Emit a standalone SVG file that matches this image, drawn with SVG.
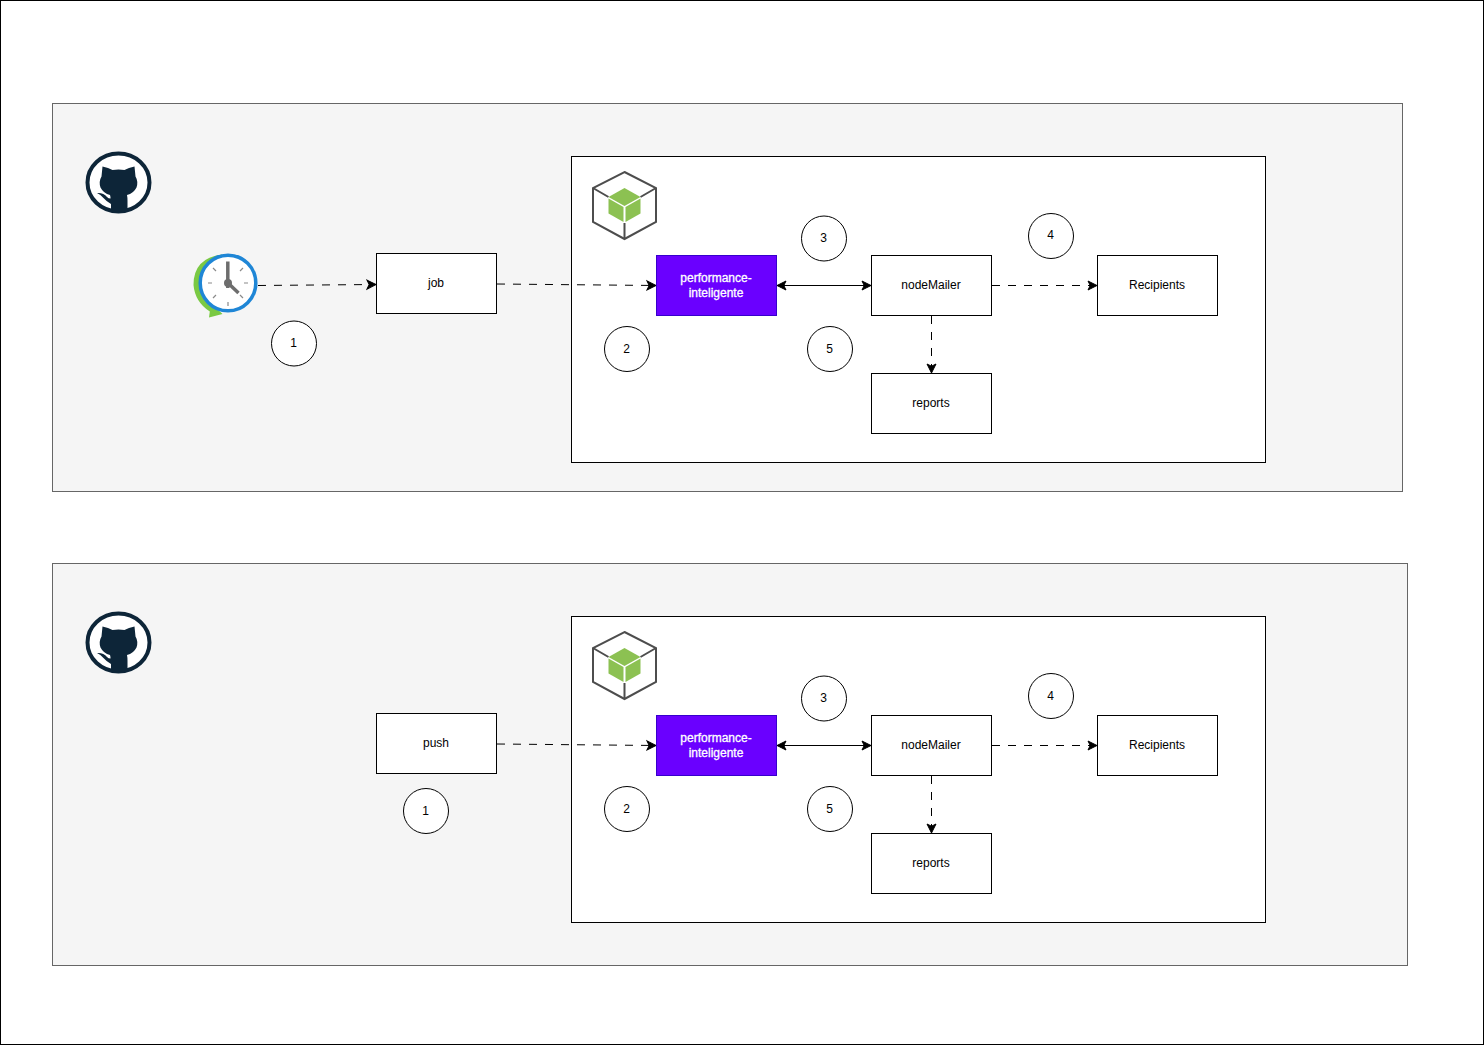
<svg xmlns="http://www.w3.org/2000/svg" width="1484" height="1045" viewBox="0 0 1484 1045">
<style>
text{font-family:"Liberation Sans",Arial,sans-serif;font-size:12px;fill:#000;text-anchor:middle}
text.w{fill:#fff;stroke:#fff;stroke-width:.3}
.box{fill:#fff;stroke:#000;stroke-width:1}
.panel{fill:#f5f5f5;stroke:#666;stroke-width:1}
.purple{fill:#6a00ff;stroke:#3700cc;stroke-width:1}
.dash{fill:none;stroke:#000;stroke-width:1;stroke-dasharray:8 8;marker-end:url(#arrow)}
.solid{fill:none;stroke:#000;stroke-width:1;marker-start:url(#arrowS);marker-end:url(#arrow)}
</style>
<defs>
<marker id="arrow" markerUnits="userSpaceOnUse" markerWidth="12" markerHeight="12" refX="10" refY="6" orient="auto"><path d="M1 1.500L10 6L1 10.500L3.200 6Z" fill="#000" stroke="#000" stroke-width="1"/></marker>
<marker id="arrowS" markerUnits="userSpaceOnUse" markerWidth="12" markerHeight="12" refX="2" refY="6" orient="auto"><path d="M11 1.500L2 6L11 10.500L8.800 6Z" fill="#000" stroke="#000" stroke-width="1"/></marker>
<g id="github">
<ellipse cx="0" cy="0" rx="31" ry="29" fill="#fff" stroke="#0d2538" stroke-width="4"/>
<path fill="#0d2538" d="M-17-6L-16-16Q-10-15-6-12.500Q0-13.500 6-12.500Q10-15 16-16L17-6Q20-1 18 5Q15 11 8.500 12.500Q9 15 9 18V28.500Q0 30-7.500 28.500V21.500Q-12 19-14.500 16Q-17 12.500-21.500 10.500Q-15 10-11.500 14.500Q-10 16-8 16V15Q-8 14-8.500 12.500Q-15 11-18 5Q-20-1-17-6Z"/>
</g>
<g id="pkg">
<path d="M0-33L31.500-17V17L0 34L-31.500 17V-17Z" fill="#fff" stroke="#4d4d4d" stroke-width="2"/>
<path d="M-31.500-17L-16-8M31.500-17L16-8M0 34V18" fill="none" stroke="#4d4d4d" stroke-width="2"/>
<path d="M0-17L16-8L0 1L-16-8Z" fill="#8cc152"/>
<path d="M-16-6.500L-1 2V17L-16 8.500Z" fill="#8cc152"/>
<path d="M16-6.500L1 2V17L16 8.500Z" fill="#8cc152"/>
</g>
<circle id="num" r="22.500" fill="#fff" stroke="#000"/>
</defs>
<rect x="0.500" y="0.500" width="1483" height="1044" fill="#fff" stroke="#000"/>
<g id="panel-top"><rect class="panel" x="52.500" y="103.500" width="1350" height="388"/></g>
<g id="panel-bottom"><rect class="panel" x="52.500" y="563.500" width="1355" height="402"/></g>
<g id="container-top"><rect class="box" x="571.500" y="156.500" width="694" height="306"/></g>
<g id="container-bottom"><rect class="box" x="571.500" y="616.500" width="694" height="306"/></g>
<g id="github-top"><use href="#github" x="118.500" y="182.500"/></g>
<g id="github-bottom"><use href="#github" x="118.500" y="642.500"/></g>
<g id="package-top"><use href="#pkg" x="624.500" y="205"/></g>
<g id="package-bottom"><use href="#pkg" x="624.500" y="665"/></g>
<g id="clock">
<path d="M222 254.500Q193.500 258 193.500 285Q195 302 209.800 311.500L209 317.500L222.500 314L213 305L220 290Z" fill="#7ac943"/>
<circle cx="228" cy="283" r="27.800" fill="#fff" stroke="#1f86d6" stroke-width="3.500"/>
<path d="M227.800 288V261.500" stroke="#6d6d6d" stroke-width="3.500"/>
<path d="M228 283L238.500 293" stroke="#6d6d6d" stroke-width="3.500"/>
<circle cx="228" cy="283" r="4" fill="#6d6d6d"/>
<path d="M228 306V302M208 283H212M244 283H248M213 268L216 271M243 268L240 271M213 298L216 295M243 298L240 295" stroke="#8a8a8a" stroke-width="1.200"/>
</g>
<g id="connectors">
<path class="dash" d="M258 285.500L376 284.500"/>
<path class="dash" d="M497 284L656 285.500"/>
<path class="solid" d="M777 285.500H871"/>
<path class="dash" d="M992 285.500H1097"/>
<path class="dash" d="M931.500 316V373"/>
<path class="dash" d="M497 744L656 745.500"/>
<path class="solid" d="M777 745.500H871"/>
<path class="dash" d="M992 745.500H1097"/>
<path class="dash" d="M931.500 776V833"/>
</g>
<g id="job"><rect class="box" x="376.500" y="253.500" width="120" height="60"/><text x="436" y="287">job</text></g>
<g id="perf-top"><rect class="purple" x="656.500" y="255.500" width="120" height="60"/><text class="w" x="716" y="282">performance-</text><text class="w" x="716" y="297">inteligente</text></g>
<g id="mailer-top"><rect class="box" x="871.500" y="255.500" width="120" height="60"/><text x="931" y="289">nodeMailer</text></g>
<g id="recipients-top"><rect class="box" x="1097.500" y="255.500" width="120" height="60"/><text x="1157" y="289">Recipients</text></g>
<g id="reports-top"><rect class="box" x="871.500" y="373.500" width="120" height="60"/><text x="931" y="407">reports</text></g>
<g id="push"><rect class="box" x="376.500" y="713.500" width="120" height="60"/><text x="436" y="747">push</text></g>
<g id="perf-bottom"><rect class="purple" x="656.500" y="715.500" width="120" height="60"/><text class="w" x="716" y="742">performance-</text><text class="w" x="716" y="757">inteligente</text></g>
<g id="mailer-bottom"><rect class="box" x="871.500" y="715.500" width="120" height="60"/><text x="931" y="749">nodeMailer</text></g>
<g id="recipients-bottom"><rect class="box" x="1097.500" y="715.500" width="120" height="60"/><text x="1157" y="749">Recipients</text></g>
<g id="reports-bottom"><rect class="box" x="871.500" y="833.500" width="120" height="60"/><text x="931" y="867">reports</text></g>
<g id="n1-top"><use href="#num" x="294" y="343.500"/><text x="293.500" y="347">1</text></g>
<g id="n2-top"><use href="#num" x="627" y="349"/><text x="626.500" y="353">2</text></g>
<g id="n3-top"><use href="#num" x="824" y="238.500"/><text x="823.500" y="242">3</text></g>
<g id="n4-top"><use href="#num" x="1051" y="236"/><text x="1050.500" y="239">4</text></g>
<g id="n5-top"><use href="#num" x="830" y="349"/><text x="829.500" y="353">5</text></g>
<g id="n1-bottom"><use href="#num" x="426" y="811"/><text x="425.500" y="815">1</text></g>
<g id="n2-bottom"><use href="#num" x="627" y="809"/><text x="626.500" y="813">2</text></g>
<g id="n3-bottom"><use href="#num" x="824" y="698.500"/><text x="823.500" y="702">3</text></g>
<g id="n4-bottom"><use href="#num" x="1051" y="696"/><text x="1050.500" y="700">4</text></g>
<g id="n5-bottom"><use href="#num" x="830" y="809"/><text x="829.500" y="813">5</text></g>
</svg>
